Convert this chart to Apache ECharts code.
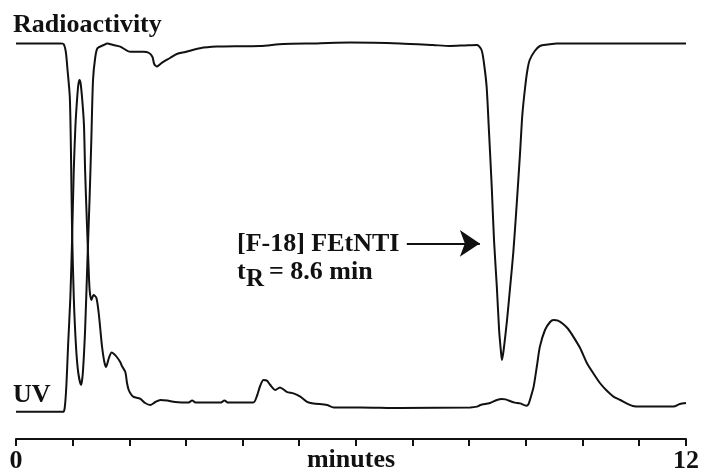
<!DOCTYPE html>
<html>
<head>
<meta charset="utf-8">
<title>Radio-HPLC of [F-18] FEtNTI</title>
<script src="https://cdn.jsdelivr.net/npm/echarts@6/dist/echarts.min.js"></script>
<style>
  html, body { margin: 0; padding: 0; background: #fff; }
  #chart { width: 701px; height: 470px; }
</style>
</head>
<body>
<div id="chart"></div>
<script>
// retention time in minutes, detector response in arbitrary units (0-100)
const radioTime = [0, 0.78, 0.84, 0.88, 0.91, 0.95, 0.97, 0.99, 1.02, 1.06,
  1.10, 1.15, 1.18, 1.22, 1.26, 1.30, 1.33, 1.36, 1.40, 1.44,
  1.55, 1.61, 1.72, 1.84, 2.02, 2.25, 2.35, 2.41, 2.44, 2.49,
  2.55, 2.60, 2.72, 2.84, 2.99, 3.25, 3.55, 3.96, 4.31, 4.72,
  5.31, 5.90, 6.78, 7.36, 7.66, 7.93, 8.14, 8.22, 8.26, 8.31,
  8.35, 8.40, 8.44, 8.49, 8.53, 8.56, 8.58, 8.61, 8.67, 8.72,
  8.78, 8.84, 8.90, 8.94, 8.99, 9.03, 9.07, 9.16, 9.25, 9.39,
  9.55, 11.83];
const radioSignal = [98.9, 98.9, 98.75, 96.75, 92.25, 85.5, 72.25, 52.25, 35.5, 23,
  16.5, 13.5, 16.5, 27.25, 44, 60.5, 74.75, 89.75, 95.5, 97.7,
  98.5, 98.9, 98.5, 98.1, 96.8, 96.8, 96.5, 95.5, 93.75, 93.1,
  93.75, 94.3, 95.25, 96.25, 96.75, 97.7, 98.1, 98.2, 98.25, 98.75,
  98.9, 99.1, 98.9, 98.5, 98.25, 98.4, 98.5, 97.25, 94.25, 88,
  77.25, 63, 49.75, 38, 27.25, 22.25, 19.75, 22.25, 29.75, 37.25,
  46.5, 58.5, 71.5, 81, 88, 92.25, 94.75, 97, 98.25, 98.6,
  98.9, 98.9];

const uvTime = [0, 0.83, 0.86, 0.89, 0.92, 0.96, 0.99, 1.02, 1.05, 1.08,
  1.10, 1.12, 1.14, 1.17, 1.20, 1.22, 1.25, 1.28, 1.30, 1.33,
  1.37, 1.42, 1.46, 1.49, 1.52, 1.56, 1.59, 1.64, 1.69, 1.73,
  1.78, 1.84, 1.87, 1.93, 1.96, 1.99, 2.04, 2.08, 2.19, 2.28,
  2.37, 2.46, 2.55, 2.67, 2.81, 3.04, 3.11, 3.18, 3.61, 3.68,
  3.75, 4.19, 4.26, 4.31, 4.37, 4.43, 4.49, 4.58, 4.66, 4.78,
  4.90, 5.02, 5.14, 5.25, 5.49, 5.61, 6.08, 6.78, 8.02, 8.14,
  8.20, 8.37, 8.49, 8.58, 8.64, 8.72, 8.81, 8.90, 9.01, 9.05,
  9.10, 9.14, 9.20, 9.25, 9.34, 9.43, 9.49, 9.57, 9.66, 9.75,
  9.84, 9.96, 10.08, 10.19, 10.31, 10.42, 10.55, 10.67, 10.78, 10.89,
  11.02, 11.61, 11.72, 11.83];
const uvSignal = [6.8, 6.8, 7.75, 13.5, 23.5, 35.5, 49.75, 67.25, 78.5, 85.25,
  88.5, 89.75, 89, 84.75, 78.5, 67.25, 54.75, 43.5, 37.25, 34.75,
  36, 35.25, 31.5, 27.25, 23, 19.25, 18, 20.25, 21.6, 21.25,
  20.5, 19.25, 18.25, 16.75, 14, 12.25, 11, 10.5, 10.1, 9,
  8.5, 9.25, 9.75, 9.6, 9.25, 9.1, 9.6, 9.1, 9.1, 9.6,
  9.1, 9.1, 11, 13.25, 14.75, 14.6, 13.5, 12.25, 12.9, 11.8,
  11.4, 10.6, 9.3, 8.9, 8.5, 7.9, 7.9, 7.75, 7.9, 8.1,
  8.5, 9, 9.75, 10, 9.9, 9.5, 9.1, 8.9, 8.3, 8.75,
  11, 13.1, 18.5, 23.1, 27.25, 29.25, 29.75, 29.6, 28.75, 27.5,
  25.6, 22.75, 19, 16.5, 14, 12.25, 10.6, 9.75, 8.9, 8.25,
  8.1, 8.1, 8.75, 9];

// the printed axis is cut just short of its last tick, which still reads 12
const axisEnd = 11.83;
const endLabels = ['0', '12'];
// arrow pointing at the product peak
const arrowFrom = [6.90, 48.9];
const arrowTo = [8.19, 48.9];

const font = "'Liberation Serif', 'Times New Roman', serif";
const ink = '#111';

const zip = (xs, ys) => xs.map((x, i) => [x, ys[i]]);

const chart = echarts.init(document.getElementById('chart'), null, { renderer: 'canvas' });

const option = {
  animation: false,
  backgroundColor: '#fff',
  grid: {
    left: 16, right: 15, top: 39, bottom: 31,
    containLabel: false,
    outerBoundsMode: 'none'
  },
  xAxis: {
    type: 'value',
    min: 0,
    max: axisEnd,
    interval: 1,
    name: 'minutes',
    nameLocation: 'middle',
    nameGap: 8,
    nameMoveOverlap: false,
    nameTextStyle: {
      fontFamily: font, fontWeight: 'bold', fontSize: 26, color: ink,
      verticalAlign: 'top'
    },
    axisLine: { lineStyle: { color: ink, width: 2 } },
    axisTick: { length: 7, lineStyle: { color: ink, width: 2 } },
    splitLine: { show: false },
    axisLabel: {
      margin: 9,
      showMinLabel: true,
      showMaxLabel: true,
      fontFamily: font,
      fontWeight: 'bold',
      fontSize: 26,
      color: ink,
      formatter(v) {
        if (v === 0) return endLabels[0];
        if (v >= axisEnd) return endLabels[1];
        return '';
      }
    }
  },
  yAxis: {
    type: 'value',
    min: 0,
    max: 100,
    show: false
  },
  series: [
    {
      name: 'Radioactivity',
      type: 'line',
      data: zip(radioTime, radioSignal),
      showSymbol: false,
      smooth: 0.25,
      lineStyle: { color: ink, width: 2 }
    },
    {
      name: 'UV',
      type: 'line',
      data: zip(uvTime, uvSignal),
      showSymbol: false,
      smooth: 0.25,
      lineStyle: { color: ink, width: 2 },
      markLine: {
        silent: true,
        symbol: ['none', 'arrow'],
        symbolSize: 20,
        label: { show: false },
        lineStyle: { color: ink, width: 2, type: 'solid' },
        data: [[{ coord: arrowFrom }, { coord: arrowTo }]]
      }
    }
  ],
  graphic: [
    {
      type: 'text', left: 13, top: 12,
      style: { text: 'Radioactivity', font: `bold 26px ${font}`, fill: ink }
    },
    {
      type: 'text', left: 13, top: 382,
      style: { text: 'UV', font: `bold 26px ${font}`, fill: ink }
    },
    {
      type: 'text', left: 237, top: 231,
      style: { text: '[F-18] FEtNTI', font: `bold 26px ${font}`, fill: ink }
    },
    {
      type: 'text', left: 237, top: 259,
      style: { text: 't', font: `bold 26px ${font}`, fill: ink }
    },
    {
      type: 'text', left: 246, top: 267,
      style: { text: 'R', font: `bold 25px ${font}`, fill: ink }
    },
    {
      type: 'text', left: 269, top: 259,
      style: { text: '= 8.6 min', font: `bold 26px ${font}`, fill: ink }
    }
  ]
};

chart.setOption(option);
</script>
</body>
</html>
